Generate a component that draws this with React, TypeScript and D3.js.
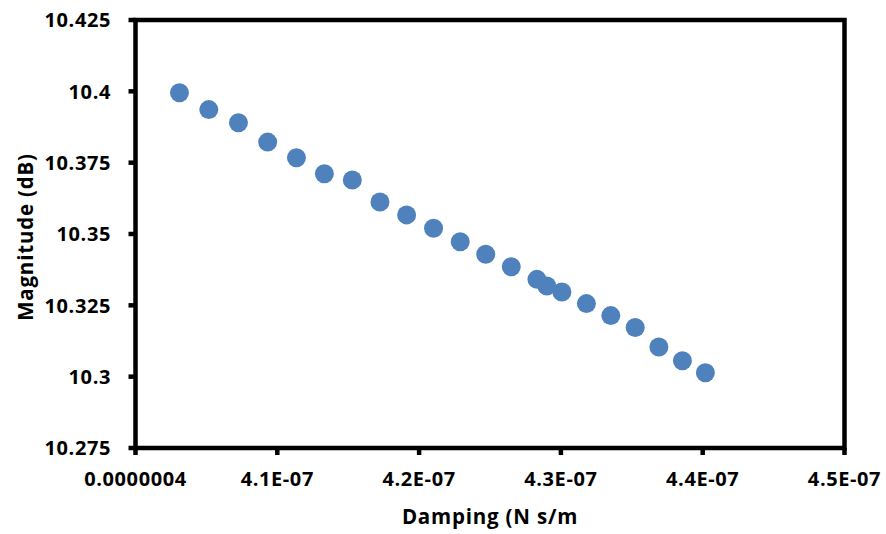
import React from "react";
import * as d3 from "d3";

const dampingE9 = [403.1, 405.17, 407.26, 409.32, 411.35, 413.32, 415.29, 417.24, 419.12, 421.02, 422.9, 424.7, 426.5, 428.31, 429.01, 430.07, 431.8, 433.52, 435.24, 436.91, 438.57, 440.19];
const magnitude = [10.3995, 10.3936, 10.389, 10.3822, 10.3767, 10.3711, 10.3689, 10.3612, 10.3567, 10.352, 10.3473, 10.3429, 10.3385, 10.3341, 10.3318, 10.3297, 10.3256, 10.3214, 10.3172, 10.3104, 10.3056, 10.3014];
const xTicks = [4.0e-7, 4.1e-7, 4.2e-7, 4.3e-7, 4.4e-7, 4.5e-7];
const xTickLabels = ["0.0000004", "4.1E-07", "4.2E-07", "4.3E-07", "4.4E-07", "4.5E-07"];
const yTicks = [10.275, 10.3, 10.325, 10.35, 10.375, 10.4, 10.425];
const yTickLabels = ["10.275", "10.3", "10.325", "10.35", "10.375", "10.4", "10.425"];

export default function App() {
  const W = 886, H = 534;
  const left = 135.5, right = 844.5, top = 20, bottom = 448;
  const x = d3.scaleLinear().domain([4.0e-7, 4.5e-7]).range([left, right]);
  const y = d3.scaleLinear().domain([10.275, 10.425]).range([bottom, top]);
  const font = "'Open Sans', 'Noto Sans', sans-serif";
  const sw = 4.5;
  const fs = 20;
  const ls = 0.6;
  return (
    <svg width={W} height={H} style={{ position: "absolute", left: 0, top: 0 }} fontFamily={font}>
      <rect width={W} height={H} fill="#fff" />
      {yTicks.map((t, i) => (
        <g key={"y" + i}>
          <line x1={left - 7} x2={left} y1={y(t)} y2={y(t)} stroke="#000" strokeWidth={sw} />
          <text x={111} y={y(t)} dy="0.36em" textAnchor="end" fontSize={fs} fontWeight="bold" letterSpacing={ls}>{yTickLabels[i]}</text>
        </g>
      ))}
      {xTicks.map((t, i) => (
        <g key={"x" + i}>
          <line x1={x(t)} x2={x(t)} y1={bottom} y2={bottom + 7} stroke="#000" strokeWidth={sw} />
          <text x={x(t)} y={486} textAnchor="middle" fontSize={fs} fontWeight="bold" letterSpacing={ls}>{xTickLabels[i]}</text>
        </g>
      ))}
      <rect x={left} y={top} width={right - left} height={bottom - top} fill="none" stroke="#000" strokeWidth={sw} />
      {dampingE9.map((d, i) => (
        <circle key={i} cx={x(d * 1e-9)} cy={y(magnitude[i])} r={9.5} fill="#4F81BD" />
      ))}
      <text x={490} y={524} textAnchor="middle" fontSize={20.5} fontWeight="bold" letterSpacing={0.8}>Damping (N s/m</text>
      <text transform={`translate(33,237) rotate(-90)`} textAnchor="middle" fontSize={20.5} fontWeight="bold" letterSpacing={0.8}>Magnitude (dB)</text>
    </svg>
  );
}
